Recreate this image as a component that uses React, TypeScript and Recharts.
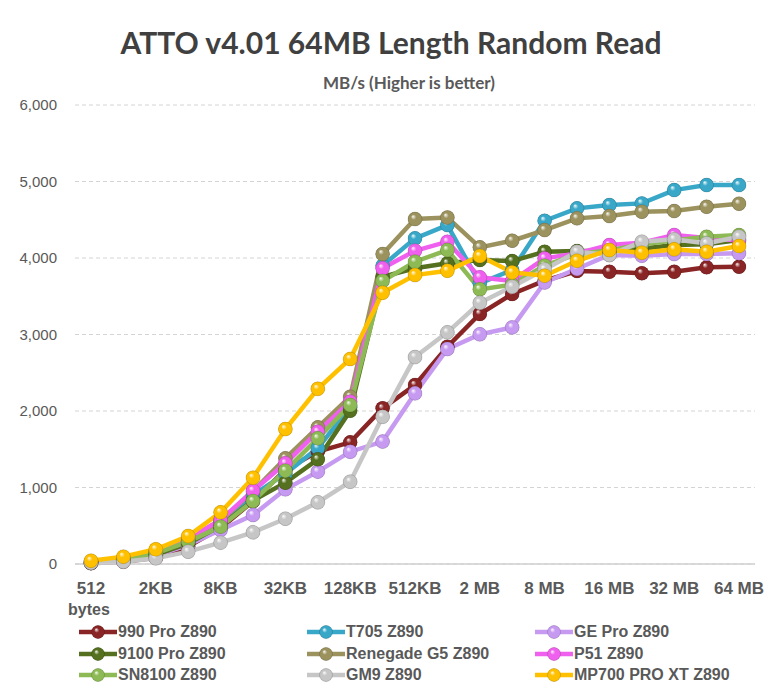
import React from 'react';
import { CartesianGrid, Line, LineChart, XAxis, YAxis } from 'recharts';

const blockSizes = ['512', '1KB', '2KB', '4KB', '8KB', '16KB', '32KB', '64KB', '128KB', '256KB', '512KB', '1 MB', '2 MB', '4 MB', '8 MB', '12 MB', '16 MB', '24 MB', '32 MB', '48 MB', '64 MB'];

const pro990 = [10, 30, 80, 230, 470, 820, 1230, 1470, 1590, 2035, 2340, 2840, 3268, 3529, 3703, 3830, 3821, 3800, 3821, 3878, 3886];
const t705 = [20, 50, 130, 290, 560, 900, 1180, 1516, 2050, 3900, 4257, 4430, 3668, 3843, 4487, 4649, 4692, 4714, 4888, 4954, 4954];
const gePro = [15, 40, 110, 250, 444, 640, 976, 1207, 1468, 1600, 2231, 2810, 3002, 3093, 3680, 3860, 4040, 4030, 4052, 4052, 4061];
const pro9100 = [15, 45, 120, 270, 500, 830, 1063, 1368, 2003, 3755, 3865, 3930, 3973, 3960, 4082, 4091, 4090, 4120, 4169, 4180, 4235];
const renegadeG5 = [20, 60, 150, 300, 560, 950, 1381, 1786, 2187, 4052, 4509, 4530, 4139, 4226, 4365, 4518, 4548, 4605, 4614, 4670, 4710];
const p51 = [30, 80, 170, 330, 575, 958, 1316, 1729, 2121, 3865, 4095, 4213, 3747, 3700, 3995, 4060, 4169, 4200, 4300, 4260, 4230];
const sn8100 = [20, 60, 140, 292, 488, 823, 1220, 1643, 2078, 3700, 3951, 4104, 3590, 3650, 3900, 4050, 4100, 4180, 4230, 4278, 4300];
const gm9 = [15, 30, 74, 161, 279, 414, 592, 806, 1076, 1925, 2705, 3028, 3415, 3625, 3850, 4082, 4039, 4213, 4244, 4191, 4278];
const mp700 = [43, 96, 192, 366, 675, 1128, 1764, 2290, 2680, 3546, 3777, 3834, 4026, 3812, 3769, 3964, 4104, 4069, 4113, 4082, 4156];

const yTicks = [0, 1000, 2000, 3000, 4000, 5000, 6000];

const series = [
  { key: 's0', name: '990 Pro Z890', values: pro990 },
  { key: 's1', name: 'T705 Z890', values: t705 },
  { key: 's2', name: 'GE Pro Z890', values: gePro },
  { key: 's3', name: '9100 Pro Z890', values: pro9100 },
  { key: 's4', name: 'Renegade G5 Z890', values: renegadeG5 },
  { key: 's5', name: 'P51 Z890', values: p51 },
  { key: 's6', name: 'SN8100 Z890', values: sn8100 },
  { key: 's7', name: 'GM9 Z890', values: gm9 },
  { key: 's8', name: 'MP700 PRO XT Z890', values: mp700 },
];

const colors: Record<string, string> = {
  s0: '#8a2525',
  s1: '#39a8c8',
  s2: '#c79af2',
  s3: '#55701f',
  s4: '#9c925e',
  s5: '#f060ee',
  s6: '#8dba55',
  s7: '#c6c6c6',
  s8: '#ffc000',
};

const data = blockSizes.map((size, i) => {
  const row: Record<string, string | number> = { size };
  series.forEach((s) => {
    row[s.key] = s.values[i];
  });
  return row;
});

const textColor = '#595959';

const Gradients = () => (
  <svg width={0} height={0} style={{ position: 'absolute' }}>
    <defs>
      {series.map((s) => (
        <radialGradient key={s.key} id={`ball-${s.key}`} cx="50%" cy="50%" r="55%" fx="35%" fy="30%">
          <stop offset="0%" stopColor="#ffffff" stopOpacity={0.95} />
          <stop offset="35%" stopColor={colors[s.key]} />
          <stop offset="100%" stopColor={colors[s.key]} />
        </radialGradient>
      ))}
    </defs>
  </svg>
);

const ball = (key: string) => (props: any) => {
  const { cx, cy, index } = props;
  if (cx == null || cy == null) return <g key={`${key}-${index}`} />;
  return (
    <g key={`${key}-${index}`}>
      <circle cx={cx} cy={cy} r={7} fill={colors[key]} />
      <circle cx={cx} cy={cy} r={7} fill={`url(#ball-${key})`} stroke="rgba(0,0,0,0.25)" strokeWidth={0.6} />
    </g>
  );
};

const LegendBlock = () => {
  const colX = [78, 306, 534];
  const rowY = [632, 654, 675];
  return (
    <>
      {series.map((s, i) => (
        <div
          key={s.key}
          style={{
            position: 'absolute',
            left: colX[i % 3],
            top: rowY[Math.floor(i / 3)] - 10,
            height: 20,
            display: 'flex',
            alignItems: 'center',
            fontFamily: '"Liberation Sans Narrow", "Liberation Sans", Arial, sans-serif',
            fontWeight: 700,
            fontSize: 16,
            color: textColor,
            whiteSpace: 'nowrap',
          }}
        >
          <svg width={40} height={20}>
            <line x1={1} y1={10} x2={39} y2={10} stroke={colors[s.key]} strokeWidth={4.5} />
            <circle cx={20} cy={10} r={6.5} fill={colors[s.key]} />
            <circle cx={20} cy={10} r={6.5} fill={`url(#ball-${s.key})`} stroke="rgba(0,0,0,0.25)" strokeWidth={0.6} />
          </svg>
          <span>{s.name}</span>
        </div>
      ))}
    </>
  );
};

export default function App() {
  return (
    <div style={{ position: 'relative', width: 780, height: 692, margin: -8, background: '#fff', overflow: 'hidden' }}>
      <Gradients />
      <div
        style={{
          position: 'absolute',
          left: 0,
          width: 782,
          top: 24,
          textAlign: 'center',
          fontFamily: 'Lato, "Open Sans", sans-serif',
          fontWeight: 700,
          fontSize: 30,
          color: '#404040',
        }}
      >
        ATTO v4.01 64MB Length Random Read
      </div>
      <div
        style={{
          position: 'absolute',
          left: 0,
          width: 818,
          top: 72,
          textAlign: 'center',
          fontFamily: 'Lato, "Open Sans", sans-serif',
          fontWeight: 700,
          fontSize: 17,
          color: textColor,
        }}
      >
        MB/s (Higher is better)
      </div>
      <LineChart width={780} height={692} data={data} margin={{ top: 105, right: 25, bottom: 98, left: 10 }}>
        <CartesianGrid vertical={false} stroke="#d4d4d4" strokeDasharray="4 3" />
        <XAxis
          dataKey="size"
          interval={1}
          height={30}
          padding={{ left: 16, right: 16 }}
          tickLine={false}
          tickSize={0}
          tickMargin={18}
          axisLine={{ stroke: '#cfcfcf', strokeWidth: 1.5 }}
          tick={{ fill: textColor, fontSize: 17, fontWeight: 700, fontFamily: '"Liberation Sans", Arial, sans-serif' }}
        />
        <YAxis
          width={65}
          domain={[0, 6000]}
          ticks={yTicks}
          axisLine={false}
          tickLine={false}
          tickSize={0}
          tickMargin={18}
          tickFormatter={(v: number) => v.toLocaleString('en-US')}
          tick={{ fill: textColor, fontSize: 15, fontFamily: '"Liberation Sans", Arial, sans-serif' }}
        />
        {series.map((s) => (
          <Line
            key={s.key}
            type="linear"
            dataKey={s.key}
            name={s.name}
            stroke={colors[s.key]}
            strokeWidth={4.5}
            dot={ball(s.key)}
            activeDot={false}
            isAnimationActive={false}
          />
        ))}
      </LineChart>
      <div
        style={{
          position: 'absolute',
          left: 68,
          top: 601,
          fontFamily: '"Liberation Sans", Arial, sans-serif',
          fontWeight: 700,
          fontSize: 16,
          color: textColor,
        }}
      >
        bytes
      </div>
      <LegendBlock />
    </div>
  );
}
